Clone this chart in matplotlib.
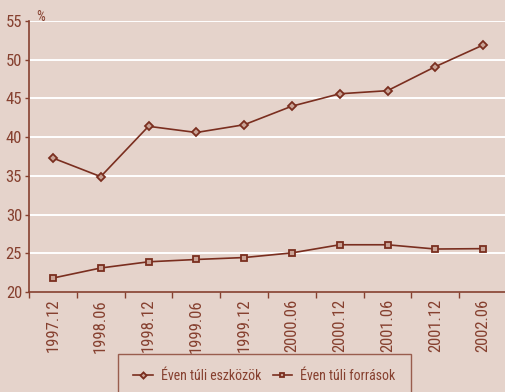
import matplotlib
matplotlib.use("Agg")
import matplotlib.pyplot as plt
from matplotlib.ticker import FixedLocator, NullFormatter

periods = ["1997.12", "1998.06", "1998.12", "1999.06", "1999.12",
           "2000.06", "2000.12", "2001.06", "2001.12", "2002.06"]
eszkozok = [37.3, 34.9, 41.4, 40.6, 41.6, 44.0, 45.6, 46.0, 49.1, 51.9]
forrasok = [21.8, 23.1, 23.9, 24.2, 24.45, 25.05, 26.1, 26.1, 25.55, 25.6]
yticks = [20, 25, 30, 35, 40, 45, 50, 55]

BG = "#E5D3CB"
LINE = "#7A2E1F"
TEXT = "#86402F"
GRID = "#FFFFFF"

plt.rcParams["font.family"] = ["Roboto Condensed", "DejaVu Sans"]

fig = plt.figure(figsize=(5.05, 3.92), dpi=100, facecolor=BG)
ax = fig.add_axes([29 / 505, 100 / 392, 478 / 505, 271 / 392])
ax.set_facecolor(BG)

x = list(range(len(periods)))
ax.plot(x, eszkozok, color=LINE, lw=1.2, marker="D", ms=4.5,
        mfc="#C9A396", mec=LINE, mew=1.3, label="Éven túli eszközök", zorder=3)
ax.plot(x, forrasok, color=LINE, lw=1.2, marker="s", ms=4.5,
        mfc="#C9A396", mec=LINE, mew=1.3, label="Éven túli források", zorder=3)

ax.set_xlim(-0.5, len(periods) - 0.5)
ax.set_ylim(20, 55)
ax.set_yticks(yticks)
for g in yticks[1:]:
    ax.axhline(g, color=GRID, lw=1.4, zorder=1)

ax.set_xticks(x)
ax.set_xticklabels(periods, rotation=90)
ax.xaxis.set_minor_locator(FixedLocator([i - 0.5 for i in range(len(periods) + 1)]))
ax.xaxis.set_minor_formatter(NullFormatter())
ax.tick_params(axis="x", which="major", length=0, pad=5, labelsize=12, labelcolor=TEXT)
ax.tick_params(axis="x", which="minor", length=4, width=1, color=TEXT, direction="out")
ax.tick_params(axis="y", length=3, width=1, color=TEXT, pad=2, labelsize=12, labelcolor=TEXT)

for s in ["top", "right"]:
    ax.spines[s].set_visible(False)
for s in ["left", "bottom"]:
    ax.spines[s].set_color(TEXT)
    ax.spines[s].set_linewidth(1.2)

fig.text(36 / 505, 1 - 17 / 392, "%", color=TEXT, fontsize=10, ha="left", va="center")

leg = fig.legend(loc="upper left", bbox_to_anchor=(118 / 505, 1 - 354 / 392),
                 ncol=2, frameon=True, fontsize=10, handlelength=1.4,
                 markerscale=0.7, columnspacing=0.8, handletextpad=0.6,
                 borderpad=1.1, borderaxespad=0, labelcolor=TEXT)
fr = leg.get_frame()
fr.set_facecolor(BG)
fr.set_edgecolor(TEXT)
fr.set_linewidth(1.0)
fr.set_boxstyle("square", pad=0)

fig.savefig("out.png", dpi=100, facecolor=BG)
